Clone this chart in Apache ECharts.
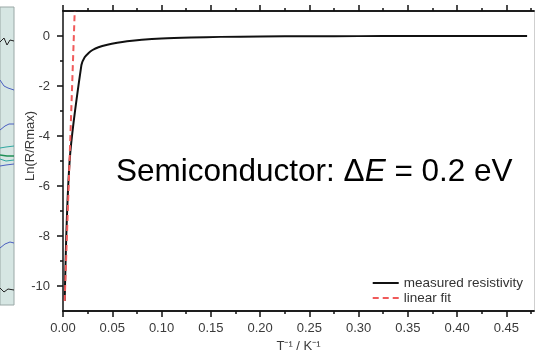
<!DOCTYPE html>
<html>
<head>
<meta charset="utf-8">
<script src="https://cdn.jsdelivr.net/npm/echarts@6/dist/echarts.min.js"></script>
<style>
html,body{margin:0;padding:0;background:#fff;}
#chart{width:536px;height:352px;}
</style>
</head>
<body>
<div id="chart"></div>
<script>
// ---- data ----
const measuredX = [0.0017, 0.0068, 0.0187, 0.022, 0.026, 0.030, 0.036, 0.045, 0.055, 0.065, 0.080, 0.100, 0.130, 0.160, 0.200, 0.250, 0.300, 0.350, 0.471];
const measuredY = [-10.6, -4.96, -1.16, -0.85, -0.68, -0.56, -0.45, -0.35, -0.27, -0.21, -0.15, -0.10, -0.06, -0.035, -0.02, -0.01, -0.005, 0.0, 0.0];
const fitX = [0.0017, 0.0119];
const fitY = [-10.6, 1.0];
const xMajorTicks = [0, 0.05, 0.10, 0.15, 0.20, 0.25, 0.30, 0.35, 0.40, 0.45];
const xMinorTicks = [0.025, 0.075, 0.125, 0.175, 0.225, 0.275, 0.325, 0.375, 0.425, 0.475];
const yMajorTicks = [-10, -8, -6, -4, -2, 0];
const yMinorTicks = [-9, -7, -5, -3, -1];
const seriesNames = ['measured resistivity', 'linear fit'];
const xRange = [0, 0.478];
const yRange = [-11, 1];

const zip = (xs, ys) => xs.map((x, i) => [x, ys[i]]);

const chart = echarts.init(document.getElementById('chart'), null, {renderer: 'canvas'});
const FONT = 'Liberation Sans, Arial, sans-serif';
const labelColor = '#3a3a3a';

function xAx(position, ticks, len, extra) {
  return Object.assign({
    type: 'value', position: position, min: xRange[0], max: xRange[1], interval: 0.025,
    axisLine: {show: true, onZero: false, lineStyle: {color: '#111', width: 1.5}},
    axisTick: {show: true, inside: false, length: len, customValues: ticks, lineStyle: {color: '#111', width: 1.5}},
    axisLabel: {show: false},
    splitLine: {show: false}
  }, extra || {});
}

chart.setOption({
  animation: false,
  backgroundColor: '#ffffff',
  grid: {left: 63, top: 11, right: 2, bottom: 41, containLabel: false, outerBoundsMode: 'none'},
  legend: {
    data: seriesNames, orient: 'vertical', right: 8, top: 271,
    itemWidth: 26, itemHeight: 14, itemGap: 1,
    itemStyle: {opacity: 0},
    textStyle: {fontSize: 13.5, color: '#333', fontFamily: FONT}
  },
  xAxis: [
    xAx('bottom', xMajorTicks, 6, {
      axisLabel: {show: true, customValues: xMajorTicks, fontSize: 13, color: labelColor, fontFamily: FONT, margin: 11,
        formatter: v => v.toFixed(2)},
      name: 'T\u207B\u00B9 / K\u207B\u00B9', nameLocation: 'middle', nameGap: 27,
      nameTextStyle: {fontSize: 13, color: labelColor, fontFamily: FONT}
    }),
    xAx('bottom', xMinorTicks, 3),
    xAx('top', xMajorTicks, 6),
    xAx('top', xMinorTicks, 3)
  ],
  yAxis: [
    {
      type: 'value', position: 'left', min: yRange[0], max: yRange[1], interval: 1,
      axisLine: {show: true, onZero: false, lineStyle: {color: '#111', width: 1.5}},
      axisTick: {show: true, length: 6, customValues: yMajorTicks, lineStyle: {color: '#111', width: 1.5}},
      axisLabel: {show: true, customValues: yMajorTicks, fontSize: 13, color: labelColor, fontFamily: FONT, margin: 13},
      splitLine: {show: false}
    },
    {
      type: 'value', position: 'left', min: yRange[0], max: yRange[1], interval: 1,
      axisLine: {show: false},
      axisTick: {show: true, length: 3, customValues: yMinorTicks, lineStyle: {color: '#111', width: 1.5}},
      axisLabel: {show: false},
      splitLine: {show: false}
    },
    {
      type: 'value', position: 'right', min: yRange[0], max: yRange[1], interval: 1,
      axisLine: {show: true, onZero: false, lineStyle: {color: '#cfcfcf', width: 1}},
      axisTick: {show: false}, axisLabel: {show: false}, splitLine: {show: false}
    }
  ],
  series: [
    {
      name: seriesNames[0], type: 'line', xAxisIndex: 0, yAxisIndex: 0,
      data: zip(measuredX, measuredY), symbol: 'none', smooth: 0.3,
      lineStyle: {color: '#111', width: 2}, itemStyle: {color: '#111'}, z: 3
    },
    {
      name: seriesNames[1], type: 'line', xAxisIndex: 0, yAxisIndex: 0,
      data: zip(fitX, fitY), symbol: 'none',
      lineStyle: {color: '#f05a5a', width: 2, type: [6, 4]}, itemStyle: {color: '#f05a5a'}, z: 4
    }
  ],
  graphic: [
    // fragment of neighbouring figure at left edge (decoration)
    {type: 'rect', shape: {x: 0, y: 7, width: 14, height: 298}, style: {fill: '#d6e6e3', stroke: '#9aa8a6', lineWidth: 1}, z: 0},
    {type: 'polyline', shape: {points: [[0,42],[4,38],[7,45],[10,40],[14,41]]}, style: {stroke: '#222', lineWidth: 1, fill: null}},
    {type: 'polyline', shape: {points: [[0,80],[4,86],[8,88],[14,90]]}, style: {stroke: '#4b5fc0', lineWidth: 1, fill: null}},
    {type: 'polyline', shape: {points: [[0,130],[5,126],[9,124],[14,124]]}, style: {stroke: '#4b5fc0', lineWidth: 1, fill: null}},
    {type: 'polyline', shape: {points: [[0,148],[6,147],[14,146]]}, style: {stroke: '#2fa7a0', lineWidth: 1, fill: null}},
    {type: 'polyline', shape: {points: [[0,155],[7,156],[14,156]]}, style: {stroke: '#1f8f56', lineWidth: 1.5, fill: null}},
    {type: 'polyline', shape: {points: [[0,159],[6,161],[14,160]]}, style: {stroke: '#2fa7a0', lineWidth: 1, fill: null}},
    {type: 'polyline', shape: {points: [[0,166],[6,165],[14,164]]}, style: {stroke: '#4b5fc0', lineWidth: 1, fill: null}},
    {type: 'polyline', shape: {points: [[0,248],[5,244],[10,242],[14,243]]}, style: {stroke: '#4b5fc0', lineWidth: 1, fill: null}},
    {type: 'polyline', shape: {points: [[0,288],[4,292],[8,289],[14,290]]}, style: {stroke: '#222', lineWidth: 1, fill: null}},
    // y axis title
    {type: 'text', x: 30, y: 146, rotation: Math.PI / 2,
      style: {text: 'Ln(R/Rmax)', fontSize: 13, fontFamily: FONT, fill: labelColor, align: 'center', verticalAlign: 'middle'}},
    // annotation
    {type: 'text', x: 116, y: 172,
      style: {
        text: '{n|Semiconductor: \u0394}{i|E}{n| = 0.2 eV}',
        align: 'left', verticalAlign: 'middle',
        rich: {
          n: {fontSize: 31.5, fontFamily: FONT, fill: '#000'},
          i: {fontSize: 31.5, fontFamily: FONT, fontStyle: 'italic', fill: '#000'}
        }
      }, z: 10}
  ]
});
</script>
</body>
</html>
